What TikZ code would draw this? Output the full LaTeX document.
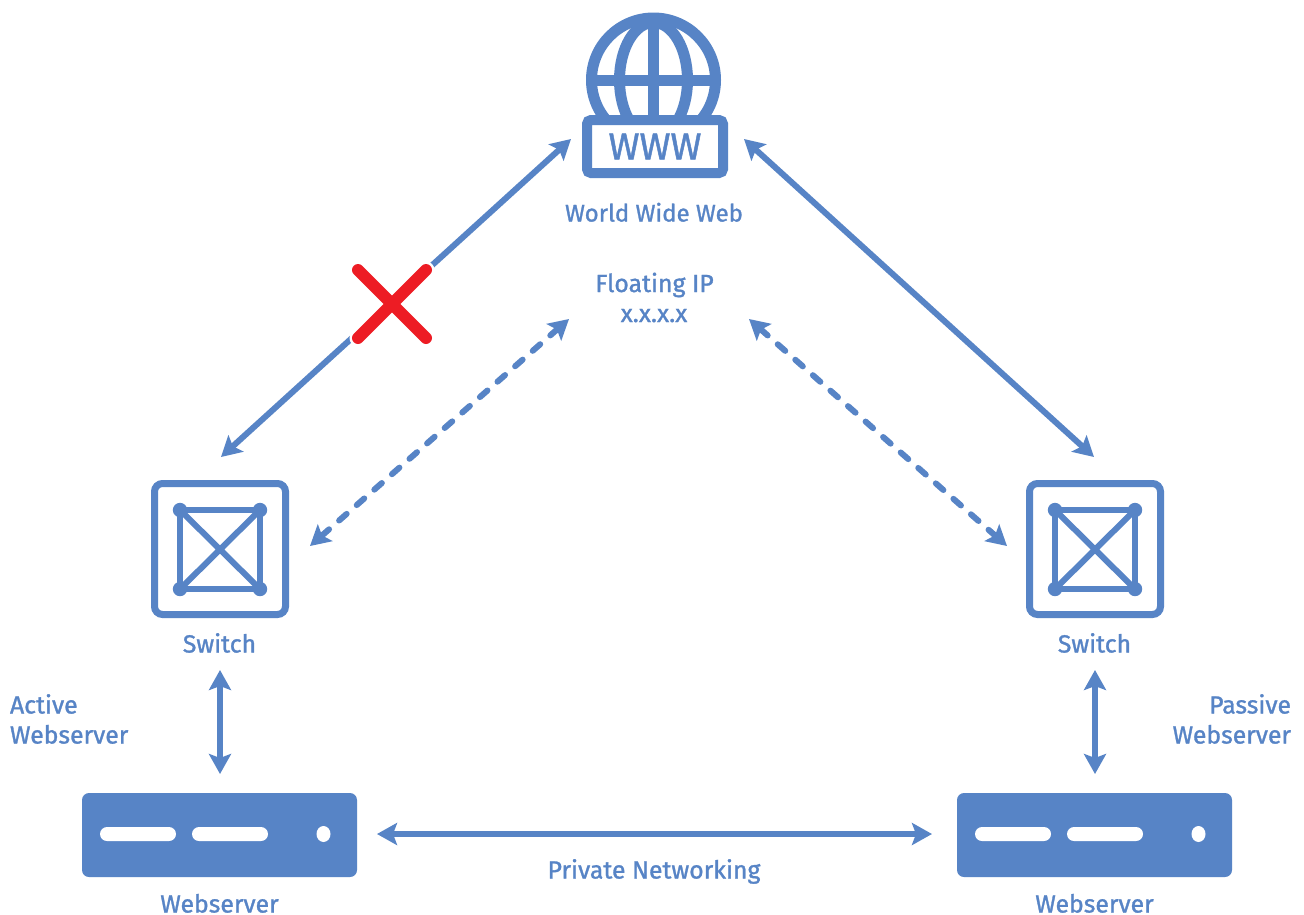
\documentclass[tikz,border=0pt]{standalone}
\usepackage{fontspec}
\setmainfont[FakeBold=1.2]{Fira Sans}
\usetikzlibrary{arrows.meta,calc}
\definecolor{nb}{HTML}{5784C6}
\definecolor{xred}{HTML}{ED1C24}
\tikzset{
  lbl/.style={text=nb,anchor=base,inner sep=0pt,outer sep=0pt,font=\fontsize{24.8}{28}\selectfont},
  lbll/.style={lbl,anchor=base west},
  lblr/.style={lbl,anchor=base east},
  conn/.style={draw=nb,line width=6pt,{Stealth[length=20pt,width=22pt,inset=4pt]}-{Stealth[length=20pt,width=22pt,inset=4pt]}},
  dconn/.style={conn,dash pattern=on 10pt off 13.4pt,line cap=round},
  switchbox/.style={draw=nb,line width=7pt,rounded corners=8pt,minimum width=131pt,minimum height=131pt,inner sep=0pt,outer sep=0pt},
  serverbox/.style={fill=nb,rounded corners=7pt,minimum width=275pt,minimum height=84pt,inner sep=0pt,outer sep=0pt},
  wwwbox/.style={draw=nb,line width=10pt,rounded corners=4pt,minimum width=136pt,minimum height=53pt,inner sep=0pt,outer sep=0pt,text=nb,font=\fontsize{37.5}{40}\selectfont},
  icon/.style={draw=nb,line width=6pt},
  globe/.style={draw=nb,line width=11pt},
  pill/.style={fill=white,rounded corners=7pt},
}
\newcommand{\switchicon}[1]{%
  \begin{scope}[shift={(#1)}]
    \draw[icon] (-40,-39) rectangle (40,40);
    \draw[icon] (-40,-39) -- (40,40) (40,-39) -- (-40,40);
    \foreach \p in {(-40,-39),(40,-39),(-40,40),(40,40)} \fill[nb] \p circle (7.2);
  \end{scope}}
\newcommand{\servericon}[1]{%
  \begin{scope}[shift={(#1)}]
    \fill[pill] (-119.5,-7) rectangle (-43.5,7);
    \fill[pill] (-27.5,-7) rectangle (48.5,7);
    \fill[white] (104,0) ellipse (7 and 8);
  \end{scope}}
\begin{document}
\begin{tikzpicture}[x=1pt,y=-1pt]
\useasboundingbox (0,0) rectangle (1304,914);
\fill[white] (0,0) rectangle (1304,914);
% globe
\begin{scope}
  \clip (500,0) rectangle (800,116);
  \draw[globe] (653.5,80) circle (62);
  \draw[globe] (653.5,80) ellipse (34 and 57.5);
  \draw[globe] (653.5,18) -- (653.5,120);
  \draw[globe] (591.5,80) -- (715.5,80);
\end{scope}
\node[wwwbox] (www) at (655,146.5) {WWW};
% switches
\node[switchbox] (sw1) at (220,549) {};
\node[switchbox] (sw2) at (1095,549) {};
\switchicon{220,549}
\switchicon{1095,549}
% servers
\node[serverbox] (srv1) at (219.5,835) {};
\node[serverbox] (srv2) at (1094.5,835) {};
\servericon{219.5,834}
\servericon{1094.5,834}
% labels
\node[lbl,font=\fontsize{24}{28}\selectfont] (wwwl) at (654,221.5) {World Wide Web};
\node[lbl] (fip1) at (654.5,292) {Floating IP};
\node[lbl] (fip2) at (654,322) {x.x.x.x};
\node[lbl] (swl1) at (219.5,652.5) {Switch};
\node[lbl] (swl2) at (1094.5,652.5) {Switch};
\node[lbll] (act1) at (10,713.5) {Active};
\node[lbll] (act2) at (10,743.5) {Webserver};
\node[lblr] (pas1) at (1291,713.5) {Passive};
\node[lblr] (pas2) at (1291,743.5) {Webserver};
\node[lbl] (srvl1) at (219.5,912.5) {Webserver};
\node[lbl] (srvl2) at (1094.5,912.5) {Webserver};
\node[lbl] (priv) at (654,878.5) {Private Networking};
% connectors
\draw[conn] ($(www.center)+(-84,-7.5)$) -- ($(sw1.center)+(1,-92)$);
\draw[conn] ($(www.center)+(89,-7.5)$) -- ($(sw2.center)+(-1,-92)$);
\draw[dconn] ($(fip2.base)+(-85,-3)$) -- ($(sw1.center)+(90,-3)$);
\draw[dconn] ($(fip2.base)+(95,-3)$) -- ($(sw2.center)+(-88,-3)$);
\draw[conn] ($(sw1.center)+(0,121)$) -- ($(srv1.center)+(0.5,-61)$);
\draw[conn] ($(sw2.center)+(0,121)$) -- ($(srv2.center)+(0.5,-61)$);
\draw[conn] ($(srv1.center)+(157.5,-1)$) -- ($(srv2.center)+(-162.5,-1)$);
% cross
\draw[white,line width=17pt,line cap=round] (358,270) -- (426,338) (426,270) -- (358,338);
\draw[xred,line width=12pt,line cap=round] (358,270) -- (426,338) (426,270) -- (358,338);
\end{tikzpicture}
\end{document}
